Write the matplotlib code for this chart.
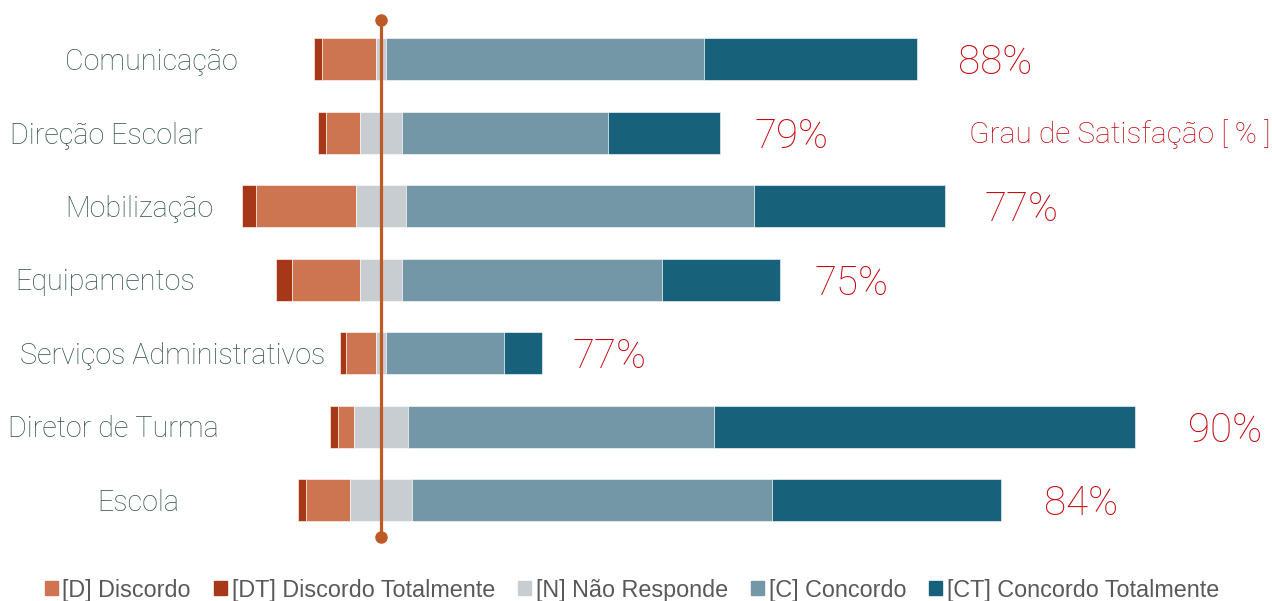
import matplotlib
matplotlib.use("Agg")
import matplotlib.pyplot as plt
from matplotlib.patches import Patch
import numpy as np

categories = ["Comunicação", "Direção Escolar", "Mobilização", "Equipamentos",
              "Serviços Administrativos", "Diretor de Turma", "Escola"]
dt = [8, 8, 14, 16, 6, 8, 8]        # [DT] Discordo Totalmente
d = [54, 34, 100, 68, 30, 16, 44]    # [D] Discordo
n = [10, 42, 50, 42, 10, 54, 62]     # [N] Não Responde
c = [318, 206, 348, 260, 118, 306, 360]  # [C] Concordo
ct = [213, 112, 191, 118, 38, 421, 229]  # [CT] Concordo Totalmente
pct_labels = ["88%", "79%", "77%", "75%", "77%", "90%", "84%"]

col_dt = "#A73719"
col_d = "#CD7550"
col_n = "#C8CDD2"
col_c = "#7497A7"
col_ct = "#17617B"
col_line = "#BE5A26"
col_cat = "#37574F"
col_red = "#C40A10"

W, H = 1272, 601
fig = plt.figure(figsize=(W / 100, H / 100), dpi=100)
ax = fig.add_axes([0, 0, 1, 1])
center_px = 381
ax.set_xlim(-center_px, W - center_px)
row0, step = 59, 73.5
ax.set_ylim((H - row0) / step, -row0 / step)
ax.axis("off")

dt_a, d_a, n_a, c_a, ct_a = map(np.array, (dt, d, n, c, ct))
y = np.arange(len(categories))
h = 42 / step
left = -(dt_a + d_a + n_a / 2)
segs = [(dt_a, col_dt), (d_a, col_d), (n_a, col_n), (c_a, col_c), (ct_a, col_ct)]
cur = left.copy()
for vals, col in segs:
    ax.barh(y, vals, left=cur, height=h, color=col, edgecolor="white", linewidth=0.4)
    cur = cur + vals

# percentage labels
gaps = [41, 35, 40, 35, 30, 53, 43]
for i, (lab, end) in enumerate(zip(pct_labels, cur)):
    ax.text(end + gaps[i], i + 4 / step, lab, color=col_red, fontsize=29, family="Roboto",
            fontweight="light", va="center", ha="left")

ax.text(969 - center_px, 1 + 2 / step, "Grau de Satisfação [ % ]", color=col_red,
        fontsize=21.5, family="Roboto", fontweight="light", va="center", ha="left")

# category labels (manually placed text boxes)
label_x_px = [65, 10, 65, 15, 20, 8, 97]
for i, (cat, px) in enumerate(zip(categories, label_x_px)):
    ax.text(px - center_px, i + 3 / step, cat, color=col_cat, fontsize=20.7, family="Roboto",
            fontweight="light", va="center", ha="left")

# center line
ax.plot([0, 0], [(20 - row0) / step, (537 - row0) / step], color=col_line, lw=2.3,
        marker="o", markersize=8, solid_capstyle="butt")

handles = [Patch(color=col_d, label="[D] Discordo"),
           Patch(color=col_dt, label="[DT] Discordo Totalmente"),
           Patch(color=col_n, label="[N] Não Responde"),
           Patch(color=col_c, label="[C] Concordo"),
           Patch(color=col_ct, label="[CT] Concordo Totalmente")]
leg = fig.legend(handles=handles, loc="center", bbox_to_anchor=(632 / W, 1 - 590 / H),
                 ncol=5, frameon=False, prop={"family": "Liberation Sans", "size": 16.8},
                 handlelength=0.55, handleheight=0.55, handletextpad=0.2, columnspacing=1.0,
                 borderaxespad=0, borderpad=0)
for t in leg.get_texts():
    t.set_color("#595959")

fig.savefig("out.png", dpi=100)
